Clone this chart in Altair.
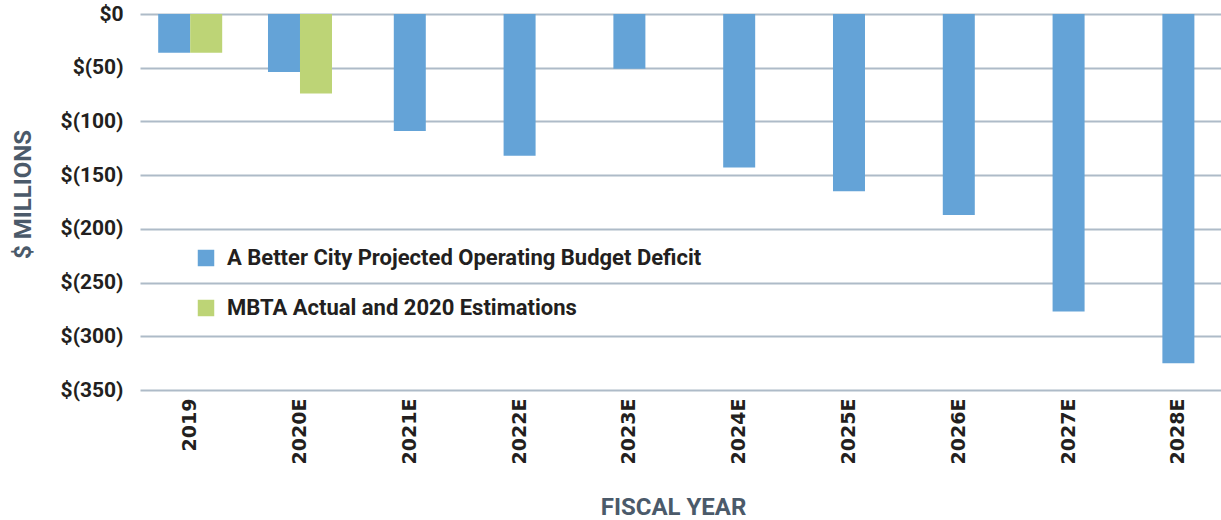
import altair as alt
import pandas as pd

years = ["2019", "2020E", "2021E", "2022E", "2023E", "2024E", "2025E", "2026E", "2027E", "2028E"]
abc_deficit = [-36, -54, -109, -132, -51, -143, -165, -187, -277, -325]
mbta_years = ["2019", "2020E"]
mbta_deficit = [-36, -74]
y_ticks = [0, -50, -100, -150, -200, -250, -300, -350]

ABC = "A Better City Projected Operating Budget Deficit"
MBTA = "MBTA Actual and 2020 Estimations"

rows = []
for yr, v in zip(years, abc_deficit):
    rows.append({"year": yr, "value": v, "series": ABC, "paired": yr in mbta_years})
for yr, v in zip(mbta_years, mbta_deficit):
    rows.append({"year": yr, "value": v, "series": MBTA, "paired": True})
df = pd.DataFrame(rows)

TEXT = "#231f20"
TITLE = "#4b5a6a"

x = alt.X(
    "year:N",
    sort=years,
    scale=alt.Scale(paddingInner=0.5, paddingOuter=0.1726, align=0.6),
    axis=alt.Axis(
        title="FISCAL YEAR",
        labelAngle=270,
        labelFont="DejaVu Sans",
        labelFontWeight="bold",
        labelFontSize=19,
        labelColor=TEXT,
        labelPadding=8,
        domain=False,
        ticks=False,
        titleFont="Roboto",
        titleFontWeight="bold",
        titleFontSize=24,
        titleColor=TITLE,
        titleX=533,
        titleY=124,
        titleBaseline="alphabetic",
    ),
)
y = alt.Y(
    "value:Q",
    scale=alt.Scale(domain=[-350, 0], nice=False),
    axis=alt.Axis(
        values=y_ticks,
        labelExpr="datum.value == 0 ? '$0' : '$(' + abs(datum.value) + ')'",
        title="$ MILLIONS",
        grid=True,
        gridColor="#aebbc8",
        gridWidth=2,
        domain=False,
        ticks=False,
        labelPadding=17,
        labelFont="Roboto",
        labelFontWeight="bold",
        labelFontSize=21,
        labelColor=TEXT,
        titleFont="Roboto",
        titleFontWeight="bold",
        titleFontSize=24,
        titleColor=TITLE,
        titleX=-117,
        titleY=180,
        titleBaseline="middle",
    ),
)
color = alt.Color(
    "series:N",
    scale=alt.Scale(domain=[ABC, MBTA], range=["#64a3d7", "#bdd476"]),
    legend=alt.Legend(
        title=None,
        orient="none",
        legendX=55,
        legendY=233,
        symbolType="square",
        symbolSize=272,
        symbolStrokeWidth=0,
        labelFont="Roboto",
        labelFontWeight="bold",
        labelFontSize=22,
        labelColor=TEXT,
        rowPadding=28,
        labelOffset=10,
        labelLimit=800,
    ),
)

base = alt.Chart(df).encode(x=x, y=y, color=color)

single = base.transform_filter("datum.series == '%s' && !datum.paired" % ABC).mark_bar(width=32)
paired_abc = base.transform_filter("datum.series == '%s' && datum.paired" % ABC).mark_bar(width=32, xOffset=-16)
paired_mbta = base.transform_filter("datum.series == '%s'" % MBTA).mark_bar(width=32, xOffset=16)

chart = (
    alt.layer(single, paired_abc, paired_mbta)
    .properties(
        width=1081,
        height=376,
        autosize=alt.AutoSizeParams(type="none"),
        padding={"left": 140, "top": 14, "right": 0, "bottom": 130},
        background="white",
    )
    .configure_view(stroke=None)
)

chart.save("out.html", embed_options={"renderer": "svg", "actions": False})
